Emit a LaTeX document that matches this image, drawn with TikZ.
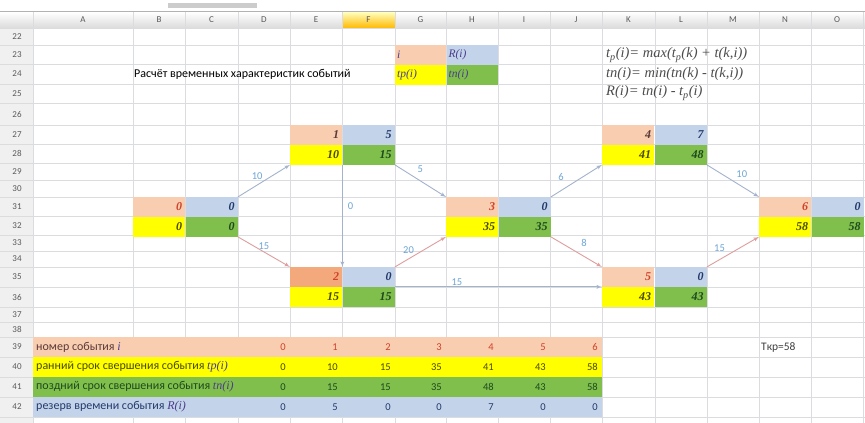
\documentclass[tikz,border=0pt]{standalone}
\usepackage{fontspec}
\setmainfont{Carlito}
\newfontfamily\numfont{Liberation Serif}
\usetikzlibrary{arrows,positioning}

\definecolor{cI}{HTML}{F9CDB0}
\definecolor{cIdark}{HTML}{F4A97C}
\definecolor{cR}{HTML}{C3D3EA}
\definecolor{cP}{HTML}{FFFF00}
\definecolor{cN}{HTML}{80BF4C}
\definecolor{tCrit}{HTML}{D0432B}
\definecolor{tDark}{HTML}{5B3A3A}
\definecolor{tR}{HTML}{233A6B}
\definecolor{tP}{HTML}{4A4A00}
\definecolor{tN}{HTML}{1E4A1E}
\definecolor{tSym}{HTML}{4B3C8C}
\definecolor{gridc}{HTML}{DADCE0}
\definecolor{arrGray}{HTML}{A3B3CC}
\definecolor{arrPink}{HTML}{DE9E9E}
\definecolor{lblc}{HTML}{6EA6D6}

\begin{document}
\begin{tikzpicture}[
    x=1pt, y=-1pt,
    cell/.style={rectangle, minimum width=52pt, minimum height=19.5pt, inner sep=0pt, text width=46pt, align=right, font=\numfont\itshape\bfseries\fontsize{12}{12}\selectfont},
    legend/.style={rectangle, minimum width=51pt, minimum height=19.5pt, inner sep=0pt, text width=47pt, align=left, anchor=north west, text=tSym, font=\numfont\itshape\fontsize{11.5}{11.5}\selectfont},
    head/.style={text=black!65, font=\fontsize{9}{9}\selectfont, inner sep=0pt},
    lbl/.style={text=lblc, font=\fontsize{10.5}{10.5}\selectfont, inner sep=1pt},
    tab/.style={anchor=west, inner sep=0pt, font=\fontsize{12}{12}\selectfont},
    num/.style={anchor=east, inner sep=0pt, font=\fontsize{10.5}{10.5}\selectfont},
    line/.style={draw, -latex', line width=0.9pt}
]
    \useasboundingbox (0,0) rectangle (865,423);

    % Sheet frame
    \fill[white] (0,0) rectangle (865,423);
    \fill[black!20] (168,3) rectangle (257,8);
    \draw[black!30] (0,11) -- (865,11);
    \shade[top color=white, bottom color=black!14] (0,12) rectangle (865,28);
    \shade[top color=yellow!25, bottom color=orange!55!yellow] (342,12) rectangle (395,28);
    \fill[black!6] (0,28) rectangle (33,423);
    \foreach \y in {28,45,64,84,103,125,144,163,180,197,216,235,251,267,287,307,322,337,357,377,397,417}
        \draw[gridc, line width=0.4pt] (0,\y) -- (865,\y);
    \foreach \x in {33,133,185,238,290,342,395,446,498,550,602,655,707,759,811,863}
        \draw[gridc, line width=0.4pt] (\x,12) -- (\x,423);
    \foreach \c/\x in {A/83,B/159,C/211.5,D/264,E/316,F/368.5,G/420.5,H/472,I/524,J/576,K/628.5,L/681,M/733,N/785,O/837}
        \node[head] (col\c) at (\x,20) {\c};
    \foreach \r/\y in {22/36.5,23/54.5,24/74,25/93.5,26/114,27/134.5,28/153.5,29/171.5,30/188.5,31/206.5,32/225.5,33/243,34/259,35/277,36/297,37/314.5,38/329.5,39/347,40/367,41/387,42/407}
        \node[head] (row\r) at (17,\y) {\r};

    % Legend and formulas
    \node[legend, fill=cI] (lgI) at (395,45) {i};
    \node[legend, fill=cR, right=0pt of lgI] (lgR) {R(i)};
    \node[legend, fill=cP, below=0pt of lgI] (lgP) {tp(i)};
    \node[legend, fill=cN, right=0pt of lgP] (lgN) {tn(i)};
    \node[tab] (title) at (134,74) {Расчёт временных характеристик событий};
    \begin{scope}[every node/.style={anchor=west, inner sep=0pt, text=black!70, font=\numfont\itshape\fontsize{14.5}{14.5}\selectfont}]
        \node (fml1) at (606,55) {t\textsubscript{p}(i)= max(t\textsubscript{p}(k) + t(k,i))};
        \node (fml2) at (606,74) {tn(i)= min(tn(k) - t(k,i))};
        \node (fml3) at (606,93) {R(i)= tn(i) - t\textsubscript{p}(i)};
    \end{scope}

    % Events
    \foreach \n/\xx/\yy/\fl/\ti/\rr/\pp/\mm in {0/133/197/cI/tCrit/0/0/0, 1/290/125/cI/tDark/5/10/15, 2/290/267/cIdark/tCrit/0/15/15, 3/446/197/cI/tCrit/0/35/35, 4/602/125/cI/tDark/7/41/48, 5/602/267/cI/tCrit/0/43/43, 6/759/197/cI/tCrit/0/58/58} {
        \node[cell, fill=\fl, text=\ti, anchor=north west] (ev\n-i) at (\xx,\yy) {\n};
        \node[cell, fill=cR, text=tR, right=0pt of ev\n-i] (ev\n-r) {\rr};
        \node[cell, fill=cP, text=tP, below=0pt of ev\n-i] (ev\n-p) {\pp};
        \node[cell, fill=cN, text=tN, right=0pt of ev\n-p] (ev\n-n) {\mm};
    }

    % Works
    \path [line, arrGray] (ev0-r.north east) -- node[lbl, above left] {10} (ev1-p.south west);
    \path [line, arrPink] (ev0-n.south east) -- node[lbl, above=1pt] {15} (ev2-i.north west);
    \path [line, arrGray] (ev1-n.south west) -- node[lbl, pos=0.4, right=4pt] {0} (ev2-r.north west);
    \path [line, arrGray] (ev1-n.south east) -- node[lbl, above=7pt] {5} (ev3-i.north west);
    \path [line, arrPink] (ev2-r.north east) -- node[lbl, pos=0.4, above left] {20} (ev3-p.south west);
    \path [line, arrGray] (ev2-r.south east) -- node[lbl, pos=0.3, above] {15} (ev5-p.north west);
    \path [line, arrGray] (ev3-r.north east) -- node[lbl, pos=0.35, above left=5pt] {6} (ev4-p.south west);
    \path [line, arrPink] (ev3-n.south east) -- node[lbl, above right=5pt] {8} (ev5-i.north west);
    \path [line, arrGray] (ev4-n.south east) -- node[lbl, above right=3pt] {10} (ev6-i.north west);
    \path [line, arrPink] (ev5-r.north east) -- node[lbl, pos=0.4, above left=2pt] {15} (ev6-p.south west);

    % Table of events
    \foreach \rw/\y/\bg/\tc/\txt/\sym in {39/337/cI/tDark/номер события/i, 40/357/cP/tP/ранний срок свершения события/tp(i), 41/377/cN/tN/поздний срок свершения события/tn(i), 42/397/cR/tR/резерв времени события/R(i)} {
        \fill[\bg] (33,\y) rectangle (602,\y+20);
        \node[tab, text=\tc] (lab\rw) at (36,\y+10) {\txt\ {\numfont\itshape\fontsize{12}{12}\selectfont\color{tSym}\sym}};
    }
    \foreach \v [count=\k from 0] in {0,1,2,3,4,5,6} {
        \pgfmathsetmacro{\xr}{{290,342,395,446,498,550,602}[\k]-4}
        \node[num, text=tCrit] (v39-\k) at (\xr,347) {\v};
    }
    \foreach \v [count=\k from 0] in {0,10,15,35,41,43,58} {
        \pgfmathsetmacro{\xr}{{290,342,395,446,498,550,602}[\k]-4}
        \node[num, text=tP] (v40-\k) at (\xr,367) {\v};
    }
    \foreach \v [count=\k from 0] in {0,15,15,35,48,43,58} {
        \pgfmathsetmacro{\xr}{{290,342,395,446,498,550,602}[\k]-4}
        \node[num, text=tN] (v41-\k) at (\xr,387) {\v};
    }
    \foreach \v [count=\k from 0] in {0,5,0,0,7,0,0} {
        \pgfmathsetmacro{\xr}{{290,342,395,446,498,550,602}[\k]-4}
        \node[num, text=tR] (v42-\k) at (\xr,407) {\v};
    }
    \node[tab, text=black!75, font=\fontsize{11.5}{11.5}\selectfont] (tkr) at (761,347) {Tкр=58};
\end{tikzpicture}
\end{document}
